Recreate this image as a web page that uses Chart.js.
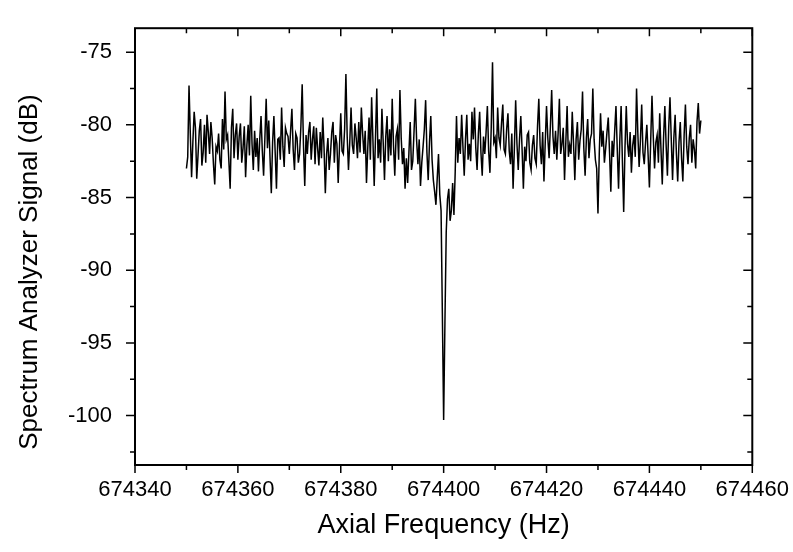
<!DOCTYPE html>
<html lang="en">
<head>
<meta charset="UTF-8">
<title>Spectrum Analyzer Signal</title>
<script src="https://cdn.jsdelivr.net/npm/chart.js"></script>
<style>
  html, body { margin: 0; padding: 0; background: #fff; }
  canvas { display: block; }
</style>
</head>
<body>
<canvas id="spectrum" width="793" height="552"></canvas>
<script>
// sweep grid: 674350 Hz .. 674450 Hz in 0.25 Hz steps
const freqStart = 674350;
const freqStep = 0.25;

// signal in dB, one value per sweep point (5 Hz per row)
const signalDb = [
  -83.0, -82.2, -77.3, -80.6, -83.6, -81.2, -79.1, -80.2, -83.7, -82.1, -80.4, -79.6, -82.8, -81.9, -80.0, -82.6, -79.3, -80.5, -82.0, -79.8,
  -80.9, -82.7, -84.1, -81.5, -81.8, -80.6, -82.4, -83.0, -79.6, -81.7, -77.7, -81.0, -80.7, -82.5, -84.4, -80.2, -78.9, -82.3, -80.7, -79.9,
  -82.4, -80.8, -79.9, -82.6, -81.6, -80.1, -83.6, -81.4, -80.0, -82.1, -78.0, -81.3, -83.1, -80.4, -82.2, -80.9, -83.2, -81.0, -79.4, -81.8,
  -83.5, -80.9, -78.2, -81.6, -79.7, -82.3, -84.7, -81.2, -79.4, -81.9, -84.4, -81.0, -80.9, -82.4, -78.8, -81.5, -82.9, -80.2, -80.6, -80.8,
  -82.0, -80.4, -78.9, -81.7, -83.1, -80.6, -80.9, -82.6, -82.0, -80.1, -77.2, -81.4, -84.2, -80.7, -82.0, -80.5, -79.8, -82.4, -81.0, -80.1,
  -82.7, -80.2, -81.6, -82.8, -80.5, -82.3, -79.5, -81.6, -84.7, -82.0, -80.9, -83.1, -82.0, -80.5, -79.8, -82.6, -80.7, -81.3, -84.0, -81.5,
  -79.2, -81.8, -82.0, -80.3, -76.5, -80.8, -83.1, -81.2, -78.8, -81.4, -82.0, -79.9, -80.9, -82.3, -79.8, -81.9, -78.8, -80.6, -82.0, -80.4,
  -84.0, -81.6, -79.5, -82.4, -78.1, -81.0, -84.2, -80.9, -77.5, -82.3, -81.0, -82.6, -78.9, -81.2, -83.8, -80.8, -79.4, -82.5, -80.3, -82.1,
  -78.2, -81.4, -83.5, -80.8, -80.3, -82.4, -77.6, -80.9, -82.7, -81.6, -84.4, -82.3, -84.0, -81.9, -79.8, -83.1, -82.5, -80.4, -78.2, -81.1,
  -82.7, -81.0, -84.2, -82.6, -81.5, -80.3, -78.3, -81.9, -83.8, -81.2, -79.4, -82.4, -83.8, -84.6, -85.5, -83.7, -82.0, -84.8, -85.9, -93.0,
  -100.3, -93.6, -87.4, -85.1, -84.4, -86.6, -85.9, -84.0, -86.2, -83.2, -79.4, -82.6, -80.9, -82.0, -79.3, -81.5, -83.5, -81.0, -79.3, -82.4,
  -81.3, -82.5, -79.1, -81.0, -78.8, -81.6, -83.1, -80.6, -79.1, -81.9, -83.5, -80.8, -82.0, -80.5, -78.7, -81.8, -83.3, -80.2, -75.7, -81.2,
  -80.9, -82.3, -78.8, -80.9, -81.4, -79.9, -78.6, -81.7, -82.0, -80.3, -79.2, -81.8, -82.7, -80.6, -84.4, -81.6, -78.3, -81.3, -83.1, -81.0,
  -79.4, -81.7, -84.4, -81.5, -82.5, -80.7, -80.5, -82.6, -83.1, -81.4, -80.7, -82.3, -82.7, -80.1, -78.2, -81.4, -82.7, -80.5, -83.9, -81.2,
  -78.7, -80.9, -82.3, -80.1, -77.6, -80.8, -82.0, -80.4, -82.4, -80.6, -78.2, -82.0, -81.3, -80.2, -83.8, -81.2, -78.7, -82.2, -81.4, -82.0,
  -79.1, -81.3, -83.8, -81.0, -79.8, -82.4, -81.1, -80.3, -77.7, -81.6, -83.5, -80.9, -79.6, -82.3, -81.0, -80.6, -77.5, -81.0, -82.4, -83.0,
  -86.1, -82.0, -79.2, -81.5, -80.4, -82.6, -81.6, -80.5, -79.5, -81.9, -84.6, -81.1, -82.2, -80.4, -78.7, -81.7, -84.4, -81.0, -78.7, -82.5,
  -86.0, -81.6, -78.7, -81.3, -82.2, -80.5, -83.3, -81.4, -80.7, -82.2, -77.5, -80.6, -82.9, -81.1, -78.6, -81.9, -82.7, -81.2, -80.0, -82.1,
  -84.3, -81.1, -78.0, -80.8, -83.0, -81.2, -80.7, -82.6, -79.2, -81.7, -84.1, -80.9, -78.7, -81.4, -83.5, -80.2, -78.1, -81.0, -83.8, -80.9,
  -79.3, -82.0, -83.9, -81.2, -79.8, -82.3, -83.9, -80.7, -78.6, -81.5, -82.7, -80.9, -80.0, -82.6, -81.0, -81.7, -83.0, -79.8, -78.5, -80.6,
  -79.7
];

const xTicks = [674340, 674360, 674380, 674400, 674420, 674440, 674460];
const xMinorTicks = [674350, 674370, 674390, 674410, 674430, 674450];
const yTicks = [-100, -95, -90, -85, -80, -75];
const yMinorTicks = [-102.5, -97.5, -92.5, -87.5, -82.5, -77.5];

const yTitle = 'Spectrum Analyzer Signal (dB)';

const points = signalDb.map((v, i) => ({ x: freqStart + i * freqStep, y: v }));

const fontFamily = '"Liberation Sans", Arial, Helvetica, sans-serif';

// box frame: left/bottom ticks point out, top/right ticks point in
const framePlugin = {
  id: 'frame',
  afterDatasetsDraw(chart) {
    const { ctx, chartArea: a, scales: { x, y } } = chart;
    ctx.save();
    ctx.strokeStyle = '#000';
    ctx.lineWidth = 1.5;
    ctx.beginPath();
    xTicks.forEach(v => {
      const px = x.getPixelForValue(v);
      ctx.moveTo(px, a.bottom); ctx.lineTo(px, a.bottom + 8);
      ctx.moveTo(px, a.top); ctx.lineTo(px, a.top + 8);
    });
    xMinorTicks.forEach(v => {
      const px = x.getPixelForValue(v);
      ctx.moveTo(px, a.bottom); ctx.lineTo(px, a.bottom + 5);
      ctx.moveTo(px, a.top); ctx.lineTo(px, a.top + 5);
    });
    yTicks.forEach(v => {
      const py = y.getPixelForValue(v);
      ctx.moveTo(a.left, py); ctx.lineTo(a.left - 9, py);
      ctx.moveTo(a.right, py); ctx.lineTo(a.right - 9, py);
    });
    yMinorTicks.forEach(v => {
      const py = y.getPixelForValue(v);
      ctx.moveTo(a.left, py); ctx.lineTo(a.left - 5, py);
      ctx.moveTo(a.right, py); ctx.lineTo(a.right - 5, py);
    });
    ctx.stroke();
    ctx.lineWidth = 2;
    ctx.strokeRect(a.left, a.top, a.right - a.left, a.bottom - a.top);

    // y axis title sits a bit below the axis centre in the original
    ctx.translate(30, 272);
    ctx.rotate(-Math.PI / 2);
    ctx.fillStyle = '#000';
    ctx.font = '26px ' + fontFamily;
    ctx.textAlign = 'center';
    ctx.textBaseline = 'middle';
    ctx.fillText(yTitle, 0, 0);
    ctx.restore();
  }
};

new Chart(document.getElementById('spectrum'), {
  type: 'line',
  data: {
    datasets: [{
      data: points,
      borderColor: '#000',
      borderWidth: 1.5,
      pointRadius: 0,
      tension: 0,
      fill: false
    }]
  },
  options: {
    responsive: false,
    animation: false,
    layout: { padding: { top: 8, right: 40, left: 0, bottom: 0 } },
    plugins: { legend: { display: false }, tooltip: { enabled: false } },
    scales: {
      x: {
        type: 'linear',
        min: 674340,
        max: 674460,
        afterFit: s => { s.height = 87; },
        afterBuildTicks: s => { s.ticks = xTicks.map(v => ({ value: v })); },
        grid: { display: false },
        border: { display: false },
        ticks: {
          color: '#000',
          padding: 4,
          maxRotation: 0,
          font: { family: fontFamily, size: 22 },
          callback: v => String(v)
        },
        title: {
          display: true,
          text: 'Axial Frequency (Hz)',
          color: '#000',
          padding: { top: 0, bottom: 10 },
          font: { family: fontFamily, size: 27 }
        }
      },
      y: {
        type: 'linear',
        min: -103.4,
        max: -73.35,
        afterFit: s => { s.width = 135; },
        afterBuildTicks: s => { s.ticks = yTicks.map(v => ({ value: v })); },
        grid: { display: false },
        border: { display: false },
        ticks: {
          color: '#000',
          padding: 15,
          font: { family: fontFamily, size: 22 },
          callback: v => String(v)
        },
        title: { display: false }
      }
    }
  },
  plugins: [framePlugin]
});
</script>
</body>
</html>
